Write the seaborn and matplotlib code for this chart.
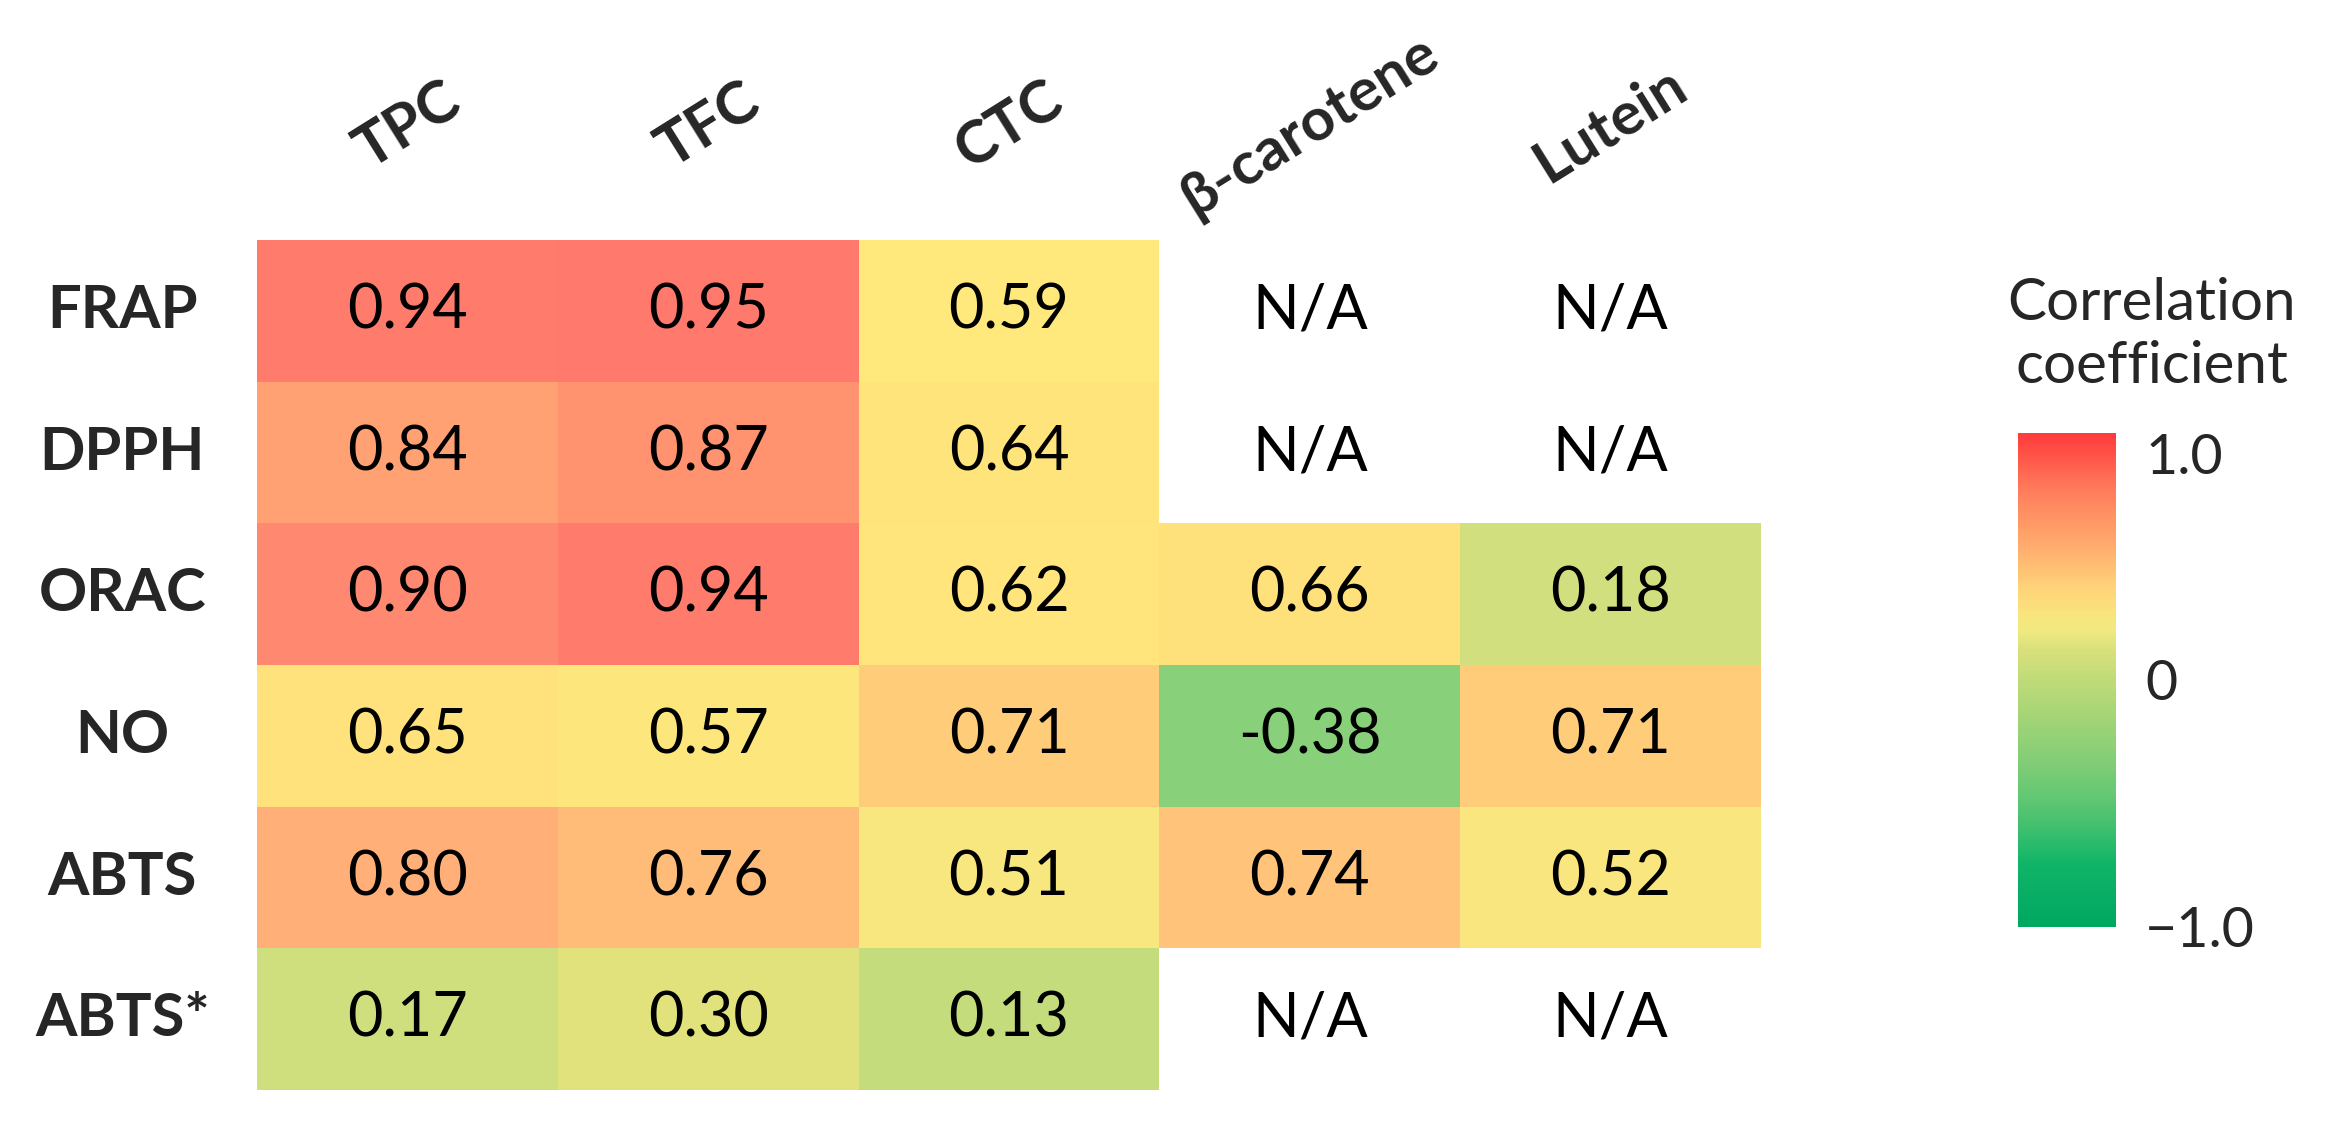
import numpy as np
import pandas as pd
import seaborn as sns
import matplotlib.pyplot as plt
from matplotlib.colors import LinearSegmentedColormap, Normalize
import matplotlib.cm as cm

# data
assays = ['FRAP', 'DPPH', 'ORAC', 'NO', 'ABTS', 'ABTS*']
compounds = ['TPC', 'TFC', 'CTC', 'β-carotene', 'Lutein']
tpc = [0.94, 0.84, 0.90, 0.65, 0.80, 0.17]
tfc = [0.95, 0.87, 0.94, 0.57, 0.76, 0.30]
ctc = [0.59, 0.64, 0.62, 0.71, 0.51, 0.13]
bcarotene = [np.nan, np.nan, 0.66, -0.38, 0.74, np.nan]
lutein = [np.nan, np.nan, 0.18, 0.71, 0.52, np.nan]

df = pd.DataFrame({'TPC': tpc, 'TFC': tfc, 'CTC': ctc,
                   'β-carotene': bcarotene, 'Lutein': lutein}, index=assays)

# excel-like colour scale for the cells
cell_nodes = [(-1.0, '#00B050'), (-0.38, '#88D07A'), (0.13, '#C4DC7B'), (0.17, '#D0DF7E'),
              (0.30, '#E2E27C'), (0.51, '#F8E67E'), (0.59, '#FFE87C'), (0.66, '#FFE27C'),
              (0.71, '#FFCC7A'), (0.76, '#FFBE79'), (0.80, '#FFB077'), (0.84, '#FFA273'),
              (0.87, '#FF9570'), (0.90, '#FF8A70'), (0.95, '#FF7A6C'), (1.0, '#FF6A66')]
cell_cmap = LinearSegmentedColormap.from_list('cells', [((v + 1) / 2, c) for v, c in cell_nodes])

bar_nodes = [(-1.0, '#00A860'), (-0.75, '#10B468'), (-0.60, '#40C06E'), (-0.46, '#66C874'),
             (-0.31, '#86CE76'), (-0.17, '#A0D476'), (-0.02, '#BCDA78'), (0.12, '#D8E07C'),
             (0.21, '#F2EA80'), (0.27, '#F9E37C'), (0.37, '#FFD47A'), (0.48, '#FFBA72'),
             (0.63, '#FF9A66'), (0.77, '#FF7C5C'), (1.0, '#FF3B3B')]
bar_cmap = LinearSegmentedColormap.from_list('bar', [((v + 1) / 2, c) for v, c in bar_nodes])

sns.set_theme(style='white')
plt.rcParams['font.family'] = ['Lato', 'DejaVu Sans']

fig = plt.figure(figsize=(23.39, 11.24), dpi=100)
ax = fig.add_axes([0.1099, 0.0302, 0.643, 0.7562])

sns.heatmap(df, ax=ax, cmap=cell_cmap, vmin=-1, vmax=1, cbar=False,
            annot=True, fmt='.2f', annot_kws={'fontsize': 44, 'color': 'black'},
            xticklabels=False)

# missing values
for i in range(df.shape[0]):
    for j in range(df.shape[1]):
        if np.isnan(df.iloc[i, j]):
            ax.text(j + 0.5, i + 0.5, 'N/A', ha='center', va='center', fontsize=44, color='black')

ax.set_yticklabels(assays, rotation=0, fontweight='bold', fontsize=43, ha='center')
ax.tick_params(axis='y', length=0, pad=97)
ax.set_ylabel('')

for j, name in enumerate(compounds):
    ax.text(j + 0.5, -0.81, name, rotation=32, rotation_mode='anchor', ha='center', va='center',
            fontweight='bold', fontsize=43, clip_on=False)

# colour bar
cax = fig.add_axes([0.8628, 0.1753, 0.0419, 0.4395])
cb = fig.colorbar(cm.ScalarMappable(norm=Normalize(-1, 1), cmap=bar_cmap), cax=cax)
cb.outline.set_visible(False)
cb.set_ticks([1, 0, -1])
cb.set_ticklabels(['1.0', '0', '\u22121.0'])
cax.tick_params(length=0, pad=21, labelsize=40)
cax.get_yticklabels()[0].set_va('top')

fig.text(0.920, 0.702, 'Correlation\ncoefficient', ha='center', va='center', fontsize=42, linespacing=1.25)

plt.savefig('out.png', dpi=100)
